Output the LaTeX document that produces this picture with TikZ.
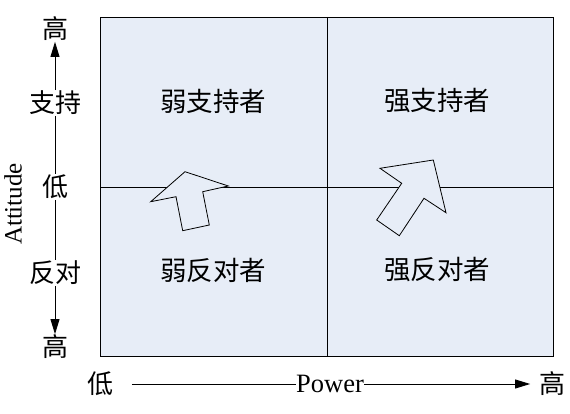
\documentclass[tikz,border=0pt]{standalone}
\usepackage{fontspec}
\setmainfont{Liberation Serif}
\newfontfamily\cjk{Noto Sans CJK SC}
\usetikzlibrary{arrows.meta}

\definecolor{quadfill}{RGB}{231,237,247}

\begin{document}
\begin{tikzpicture}[x=1pt, y=-1pt, >={Triangle[length=15pt,width=9pt]}, line width=0.8pt,
  quadlabel/.style={font=\cjk\fontsize{26.5}{26.5}\selectfont},
  axislabel/.style={font=\cjk\fontsize{26}{26}\selectfont, inner sep=0.5pt},
  turnarrow/.style={draw, fill=quadfill, line join=miter}]
  \useasboundingbox (0,0) rectangle (570,414);

  % Grid edges (in pixels of the original)
  \def\xl{100}
  \def\xm{327}
  \def\xr{553}
  \def\yt{17}
  \def\ym{187}
  \def\yb{356}

  % Quadrants
  \fill[quadfill] (\xl,\yt) rectangle (\xr,\yb);
  \draw (\xm,\yt) -- (\xm,\yb);
  \draw (\xl,\ym) -- (\xr,\ym);

  % Movement arrows
  \draw[turnarrow] (185,171.7) -- (228.3,186) -- (202.7,191.7) -- (209.3,225)
    -- (182.7,230.7) -- (176,196.7) -- (150.7,201.7) -- cycle;
  \draw[turnarrow] (433.3,160) -- (446,212.7) -- (424,198.3) -- (399.3,235.7)
    -- (376.7,220) -- (401.7,183.3) -- (380,168.3) -- cycle;

  \draw (\xl,\yt) rectangle (\xr,\yb);

  % Quadrant labels
  \node[quadlabel] (weaksup) at (213,101) {弱支持者};
  \node[quadlabel] (strongsup) at (437,101) {强支持者};
  \node[quadlabel] (weakopp) at (213,270) {弱反对者};
  \node[quadlabel] (strongopp) at (437,270) {强反对者};

  % Attitude axis
  \node[axislabel] (tophigh) at (55,29) {高};
  \node[axislabel] (support) at (55,103) {支持};
  \node[axislabel] (neutral) at (55,187) {低};
  \node[axislabel] (oppose) at (55,273) {反对};
  \node[axislabel] (bothigh) at (55,347) {高};
  \node[rotate=90, font=\fontsize{25}{25}\selectfont] (attitude) at (13,204) {Attitude};

  \draw[->] (support) -- (tophigh);
  \draw (support) -- (neutral);
  \draw (neutral) -- (oppose);
  \draw[->] (oppose) -- (bothigh);

  % Power axis
  \node[axislabel] (powlow) at (100,384) {低};
  \node[font=\fontsize{26.5}{26.5}\selectfont, inner sep=0pt] (power) at (330,384) {Power};
  \node[axislabel] (powhigh) at (552,384) {高};

  \draw[shorten <=18pt] (powlow) -- (power);
  \draw[->, shorten >=8pt] (power) -- (powhigh);

\end{tikzpicture}
\end{document}
